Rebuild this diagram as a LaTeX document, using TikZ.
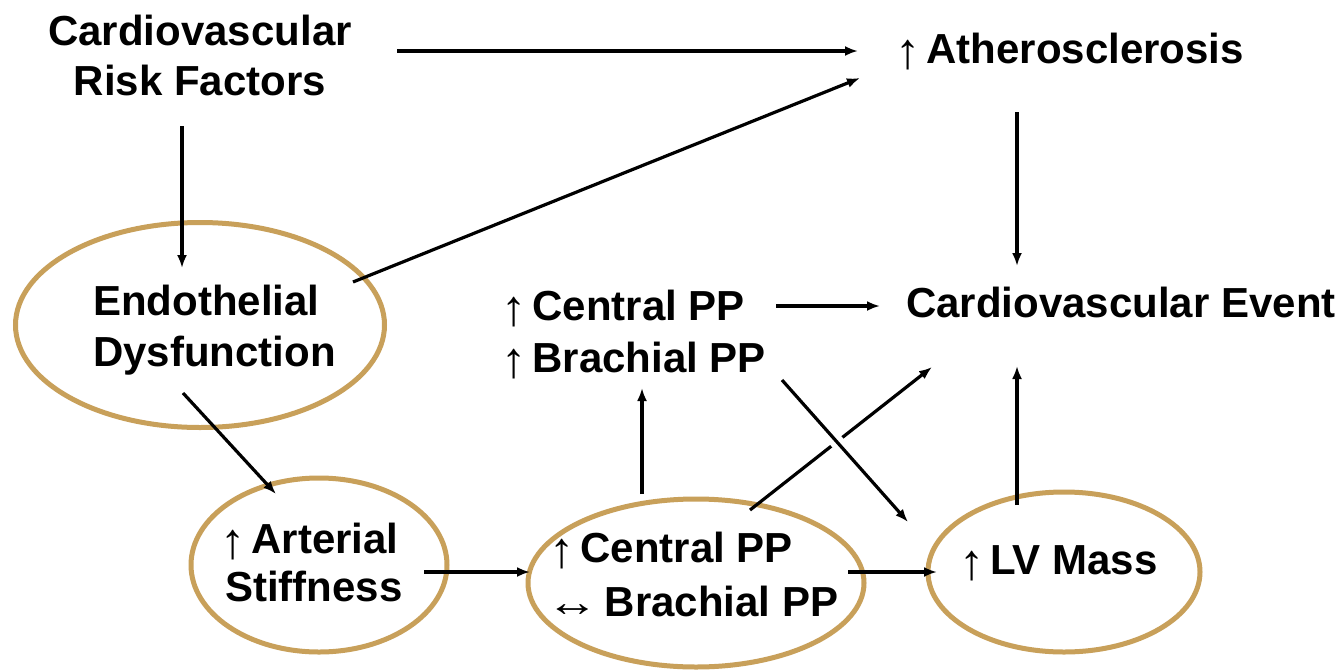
\documentclass[tikz,border=0pt]{standalone}
\usepackage{fontspec}
\setmainfont{Liberation Sans}
\usetikzlibrary{arrows.meta,calc,shapes.geometric}
\definecolor{gold}{RGB}{200,160,90}
\newcommand\uparr{\smash{\raisebox{-5pt}{\scalebox{1.2}[1.2]{\mdseries ↑}}}\hspace{6pt}}
\newcommand\lrarr{\smash{\scalebox{1.25}[1]{\mdseries ↔}}\hspace{6pt}}
\begin{document}
\begin{tikzpicture}[x=1pt,y=-1pt,
  lbl/.style={font=\bfseries\fontsize{42}{50}\selectfont, inner sep=0pt, anchor=base west},
  arr/.style={line width=3.2pt, -{Latex[length=13pt,width=10pt]}},
  ring/.style={draw=gold, line width=5pt, ellipse, inner sep=0pt}]
\useasboundingbox (0,0) rectangle (1344,670);
\fill[white] (0,0) rectangle (1344,670);

% ellipses
\node[ring, minimum width=369pt, minimum height=205pt] (endoE) at (200,325) {};
\node[ring, minimum width=256pt, minimum height=174pt] (artE) at (319,565) {};
\node[ring, minimum width=336pt, minimum height=168pt] (ppbE) at (696,583) {};
\node[ring, minimum width=272pt, minimum height=160pt] (lvE) at (1064,572) {};

% texts
\node[lbl, anchor=base] (crf1) at (200,45) {Cardiovascular};
\node[lbl, anchor=base] (crf2) at (200,95) {Risk Factors};
\node[lbl] (ath) at (895,63) {\uparr Atherosclerosis};
\node[lbl] (endo1) at (93,315) {Endothelial};
\node[lbl] (endo2) at (93,366) {Dysfunction};
\node[lbl] (ppt1) at (501,320) {\uparr Central PP};
\node[lbl] (ppt2) at (501,372) {\uparr Brachial PP};
\node[lbl] (cve) at (906,317) {Cardiovascular Event};
\node[lbl] (art1) at (220,553) {\uparr Arterial};
\node[lbl] (art2) at (225,601) {Stiffness};
\node[lbl] (ppb1) at (549,562) {\uparr Central PP};
\node[lbl] (ppb2) at (546,616) {\lrarr Brachial PP};
\node[lbl] (lv) at (959,574) {\uparr LV Mass};

% connector end points
\coordinate (crfR) at (397,51);
\coordinate (athL) at (858,51);
\coordinate (crfB) at (182,126);
\coordinate (endoT) at (182,268);
\coordinate (endoR) at (353,282);
\coordinate (athLB) at (860,78);
\coordinate (endoB) at (183,393);
\coordinate (artT) at (276,494);
\coordinate (artR) at (424,572);
\coordinate (ppbL) at (530,572);
\coordinate (ppbR) at (848,572);
\coordinate (lvL) at (937,572);
\coordinate (ppbT) at (642,494);
\coordinate (pptB) at (642,388);
\coordinate (pptR) at (776,306);
\coordinate (cveL) at (880,306);
\coordinate (athB) at (1017,112);
\coordinate (cveT) at (1017,266);
\coordinate (lvT) at (1017,505);
\coordinate (cveB) at (1017,366);
\coordinate (ppbTR) at (750,510);
\coordinate (cveBL) at (932,367);
\coordinate (pptBR) at (782,380);
\coordinate (lvTL) at (908,522);

\draw[arr] (crfR) -- (athL);
\draw[arr] (crfB) -- (endoT);
\draw[arr] (endoR) -- (athLB);
\draw[arr] (endoB) -- (artT);
\draw[arr] (artR) -- (ppbL);
\draw[arr] (ppbR) -- (lvL);
\draw[arr] (ppbT) -- (pptB);
\draw[arr] (pptR) -- (cveL);
\draw[arr] (athB) -- (cveT);
\draw[arr] (lvT) -- (cveB);
\draw[arr] (ppbTR) -- (cveBL);
\draw[white, line width=14pt] ($(pptBR)!0.36!(lvTL)$) -- ($(pptBR)!0.52!(lvTL)$);
\draw[arr] (pptBR) -- (lvTL);
\end{tikzpicture}
\end{document}
